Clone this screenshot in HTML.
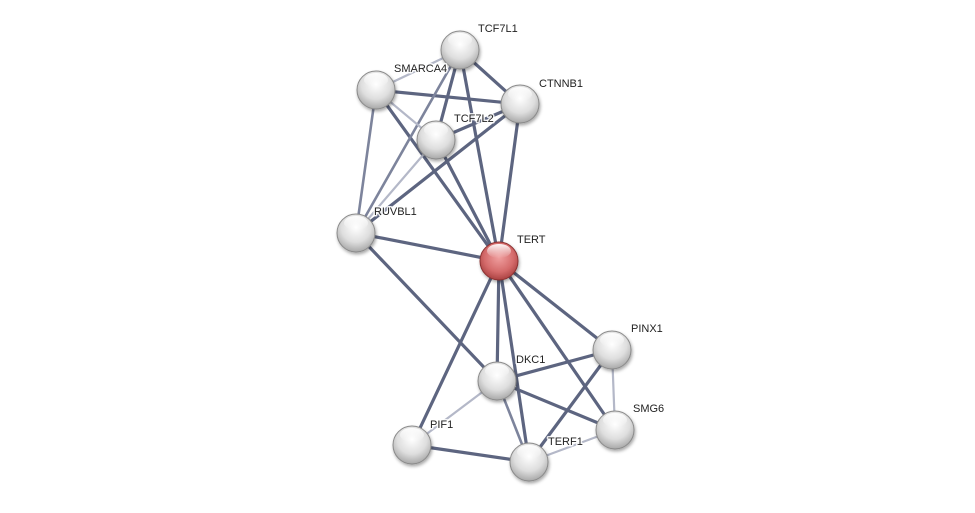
<!DOCTYPE html>
<html><head><meta charset="utf-8"><style>
html,body{margin:0;padding:0;background:#fff;}
svg text{font-family:"Liberation Sans",sans-serif;font-size:11px;fill:#222;paint-order:stroke;stroke:#fff;stroke-width:3px;stroke-opacity:0.85;stroke-linejoin:round;}
</style></head><body>
<svg width="975" height="508" viewBox="0 0 975 508" xmlns="http://www.w3.org/2000/svg">
<defs>
<radialGradient id="g" cx="50%" cy="35%" r="65%">
<stop offset="0" stop-color="#ffffff"/><stop offset="0.6" stop-color="#dedede"/><stop offset="1" stop-color="#a8a8a8"/>
</radialGradient>
<radialGradient id="r" cx="50%" cy="40%" r="65%">
<stop offset="0" stop-color="#f0a0a0"/><stop offset="0.6" stop-color="#d46a6a"/><stop offset="1" stop-color="#a03838"/>
</radialGradient>
<linearGradient id="hl" x1="0" y1="0" x2="0" y2="1">
<stop offset="0" stop-color="#fff" stop-opacity="0.95"/><stop offset="1" stop-color="#fff" stop-opacity="0"/>
</linearGradient>
<filter id="sh" x="-30%" y="-30%" width="160%" height="160%"><feDropShadow dx="1" dy="2" stdDeviation="1.5" flood-color="#000" flood-opacity="0.35"/></filter>
</defs>
<g stroke-linecap="round">
<g stroke="#5d6580" stroke-width="3.2">
<line x1="376" y1="90" x2="520" y2="104"/>
<line x1="376" y1="90" x2="499" y2="261"/>
<line x1="460" y1="50" x2="520" y2="104"/>
<line x1="460" y1="50" x2="436" y2="140"/>
<line x1="460" y1="50" x2="499" y2="261"/>
<line x1="436" y1="140" x2="520" y2="104"/>
<line x1="436" y1="140" x2="499" y2="261"/>
<line x1="520" y1="104" x2="356" y2="233"/>
<line x1="520" y1="104" x2="499" y2="261"/>
<line x1="356" y1="233" x2="499" y2="261"/>
<line x1="356" y1="233" x2="497" y2="381"/>
<line x1="499" y1="261" x2="497" y2="381"/>
<line x1="499" y1="261" x2="612" y2="350"/>
<line x1="499" y1="261" x2="615" y2="430"/>
<line x1="499" y1="261" x2="529" y2="462"/>
<line x1="499" y1="261" x2="412" y2="445"/>
<line x1="497" y1="381" x2="612" y2="350"/>
<line x1="497" y1="381" x2="615" y2="430"/>
<line x1="612" y1="350" x2="529" y2="462"/>
<line x1="412" y1="445" x2="529" y2="462"/>
</g>
<g stroke="#7d849c" stroke-width="2.6">
<line x1="376" y1="90" x2="356" y2="233"/>
<line x1="460" y1="50" x2="356" y2="233"/>
<line x1="497" y1="381" x2="529" y2="462"/>
</g>
<g stroke="#b4b8c8" stroke-width="2.2">
<line x1="376" y1="90" x2="460" y2="50"/>
<line x1="376" y1="90" x2="436" y2="140"/>
<line x1="436" y1="140" x2="356" y2="233"/>
<line x1="497" y1="381" x2="412" y2="445"/>
<line x1="612" y1="350" x2="615" y2="430"/>
<line x1="615" y1="430" x2="529" y2="462"/>
</g>
</g>
<g stroke="#8a8a8a" stroke-width="1" filter="url(#sh)">
<circle cx="460" cy="50" r="19" fill="url(#g)"/>
<circle cx="376" cy="90" r="19" fill="url(#g)"/>
<circle cx="520" cy="104" r="19" fill="url(#g)"/>
<circle cx="436" cy="140" r="19" fill="url(#g)"/>
<circle cx="356" cy="233" r="19" fill="url(#g)"/>
<circle cx="499" cy="261" r="19" fill="url(#r)" stroke="#8a3030"/>
<circle cx="612" cy="350" r="19" fill="url(#g)"/>
<circle cx="497" cy="381" r="19" fill="url(#g)"/>
<circle cx="615" cy="430" r="19" fill="url(#g)"/>
<circle cx="412" cy="445" r="19" fill="url(#g)"/>
<circle cx="529" cy="462" r="19" fill="url(#g)"/>
</g>
<g fill="url(#hl)">
<ellipse cx="460" cy="40" rx="12" ry="7"/><ellipse cx="376" cy="80" rx="12" ry="7"/>
<ellipse cx="520" cy="94" rx="12" ry="7"/><ellipse cx="436" cy="130" rx="12" ry="7"/>
<ellipse cx="356" cy="223" rx="12" ry="7"/><ellipse cx="499" cy="251" rx="12" ry="7"/>
<ellipse cx="612" cy="340" rx="12" ry="7"/><ellipse cx="497" cy="371" rx="12" ry="7"/>
<ellipse cx="615" cy="420" rx="12" ry="7"/><ellipse cx="412" cy="435" rx="12" ry="7"/>
<ellipse cx="529" cy="452" rx="12" ry="7"/>
</g>
<text x="478" y="32">TCF7L1</text>
<text x="394" y="72">SMARCA4</text>
<text x="539" y="87">CTNNB1</text>
<text x="454" y="122">TCF7L2</text>
<text x="374" y="215">RUVBL1</text>
<text x="517" y="243">TERT</text>
<text x="631" y="332">PINX1</text>
<text x="516" y="363">DKC1</text>
<text x="633" y="412">SMG6</text>
<text x="430" y="428">PIF1</text>
<text x="548" y="445">TERF1</text>
</svg>
</body></html>
